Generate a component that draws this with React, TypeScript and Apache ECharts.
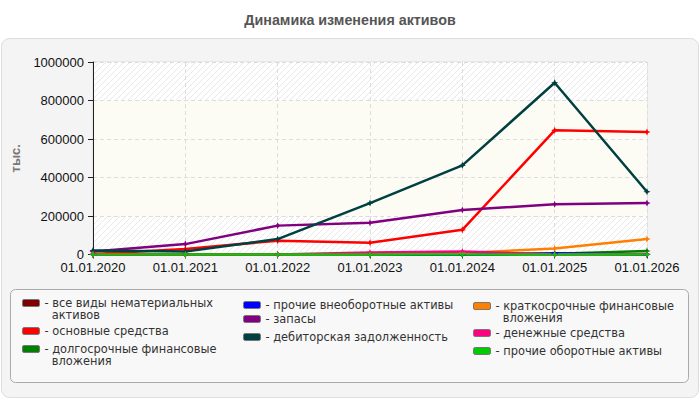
import React, { useEffect, useRef } from "react";
import * as echarts from "echarts";

const categories = ["01.01.2020", "01.01.2021", "01.01.2022", "01.01.2023", "01.01.2024", "01.01.2025", "01.01.2026"];
const yTicks = { min: 0, max: 1000000, interval: 200000 };

const intangible = [0, 0, 0, 0, 0, 0, 0];
const fixedAssets = [3000, 28000, 72000, 61000, 128000, 645000, 636000];
const longTermInvest = [0, 0, 0, 0, 0, 4000, 18000];
const otherNonCurrent = [0, 0, 0, 0, 0, 6000, 0];
const inventories = [15000, 54000, 150000, 165000, 231000, 261000, 267000];
const receivables = [21000, 15000, 80000, 267000, 463000, 892000, 326000];
const shortTermInvest = [0, 0, 0, 0, 8000, 31000, 80000];
const cash = [0, 0, 0, 10000, 15000, 1000, 2000];
const otherCurrent = [0, 0, 0, 0, 0, 0, 0];

const seriesNames = [
  "все виды нематериальных активов",
  "основные средства",
  "долгосрочные финансовые вложения",
  "прочие внеоборотные активы",
  "запасы",
  "дебиторская задолженность",
  "краткосрочные финансовые вложения",
  "денежные средства",
  "прочие оборотные активы",
];
const seriesData = [intangible, fixedAssets, longTermInvest, otherNonCurrent, inventories, receivables, shortTermInvest, cash, otherCurrent];
const seriesColors = ["#800000", "#ff0000", "#008000", "#0000ff", "#800080", "#004040", "#ff8000", "#ff0080", "#00cc00"];
const legendLabels: Record<string, string> = {
  "все виды нематериальных активов": "- все виды нематериальных\n  активов",
  "долгосрочные финансовые вложения": "- долгосрочные финансовые\n  вложения",
  "краткосрочные финансовые вложения": "- краткосрочные финансовые\n  вложения",
};

function makeHatch() {
  const c = document.createElement("canvas");
  c.width = 6;
  c.height = 6;
  const ctx = c.getContext("2d");
  if (ctx) {
    ctx.fillStyle = "#ffffff";
    ctx.fillRect(0, 0, 6, 6);
    ctx.strokeStyle = "#e8e8e8";
    ctx.lineWidth = 1;
    ctx.beginPath();
    ctx.moveTo(0, 6);
    ctx.lineTo(6, 0);
    ctx.moveTo(-1, 1);
    ctx.lineTo(1, -1);
    ctx.moveTo(5, 7);
    ctx.lineTo(7, 5);
    ctx.stroke();
  }
  return c.toDataURL();
}

// rounded-rect icon occupying the top 7px of a 17x19 box (so it sits beside the first text line)
const topIcon = "path://M1.5,0 L15.5,0 Q17,0 17,1.5 L17,5.5 Q17,7 15.5,7 L1.5,7 Q0,7 0,5.5 L0,1.5 Q0,0 1.5,0 Z M0,19 L0,19";

export default function App() {
  const ref = useRef<HTMLDivElement>(null);
  useEffect(() => {
    if (!ref.current) return;
    const chart = echarts.init(ref.current, null, { renderer: "svg" });
    const hatch = { image: makeHatch(), repeat: "repeat", imageWidth: 6, imageHeight: 6 };
    const cream = "#fcfcf4";

    const legendPos: Array<[number, number, number]> = [
      // [seriesIndex, left, top]
      [0, 22, 297],
      [1, 22, 325],
      [2, 22, 343],
      [3, 243, 299],
      [4, 243, 313],
      [5, 243, 331],
      [6, 473, 300],
      [7, 473, 327],
      [8, 473, 345],
    ];

    const legends = legendPos.map(([i, left, top]) => {
      const name = seriesNames[i];
      const two = !!legendLabels[name];
      return {
        data: [name],
        left,
        top,
        padding: 0,
        orient: "vertical",
        icon: two ? topIcon : "roundRect",
        itemWidth: 17,
        itemHeight: two ? 19 : 7,
        itemStyle: { borderColor: "#777", borderWidth: 1 },
        selectedMode: false,
        formatter: (n: string) => legendLabels[n] || "- " + n,
        textStyle: {
          fontFamily: "DejaVu Sans",
          fontSize: 11.4,
          color: "#333",
          lineHeight: 12,
        },
      };
    });

    const marker = "path://M0,-1 L0.3,-0.3 L1,0 L0.3,0.3 L0,1 L-0.3,0.3 L-1,0 L-0.3,-0.3 Z";

    chart.setOption({
      animation: false,
      backgroundColor: "#ffffff",
      title: {
        text: "Динамика изменения активов",
        left: "center",
        top: 8,
        textStyle: { fontFamily: "Liberation Sans", fontSize: 14.3, fontWeight: "bold", color: "#555" },
      },
      graphic: [
        {
          type: "rect",
          z: -100,
          shape: { x: 1.5, y: 38.5, width: 697, height: 359, r: 8 },
          style: { fill: "#f4f4f4", stroke: "#dddddd", lineWidth: 1 },
        },
        {
          type: "rect",
          z: -90,
          shape: { x: 10.5, y: 289.5, width: 678, height: 93, r: 5 },
          style: { fill: "#f8f8f8", stroke: "#aaaaaa", lineWidth: 1 },
        },
      ],
      legend: legends,
      grid: {
        left: 93,
        right: 53,
        top: 62,
        bottom: 145.5,
        show: true,
        borderColor: "#dddddd",
        borderWidth: 1,
        backgroundColor: "transparent",
      },
      xAxis: {
        type: "category",
        data: categories,
        boundaryGap: false,
        axisLine: { lineStyle: { color: "#222", width: 1 } },
        axisTick: { show: true, length: 4, lineStyle: { color: "#222" } },
        axisLabel: { fontFamily: "Liberation Sans", fontSize: 13, color: "#111", margin: 6, interval: 0 },
        splitLine: { show: true, lineStyle: { color: "#dddddd", type: [4, 3] } },
      },
      yAxis: {
        type: "value",
        min: yTicks.min,
        max: yTicks.max,
        interval: yTicks.interval,
        name: "тыс.",
        nameLocation: "middle",
        nameGap: 65,
        nameTextStyle: { fontFamily: "Liberation Sans", fontSize: 13, fontWeight: "bold", color: "#777" },
        axisLine: { show: true, lineStyle: { color: "#222", width: 1 } },
        axisTick: { show: true, length: 5, lineStyle: { color: "#222" } },
        axisLabel: {
          fontFamily: "Liberation Sans",
          fontSize: 13,
          color: "#111",
          margin: 9,
          formatter: (v: number) => String(v),
        },
        splitLine: { show: true, lineStyle: { color: "#dddddd", type: [4, 3] } },
        splitArea: { show: true, areaStyle: { color: [hatch, cream, cream, cream, hatch] } },
      },
      series: seriesNames.map((name, i) => ({
        name,
        type: "line",
        data: seriesData[i],
        color: seriesColors[i],
        lineStyle: { width: 2.5, color: seriesColors[i] },
        itemStyle: { color: seriesColors[i] },
        symbol: marker,
        symbolSize: 7,
        showSymbol: true,
      })),
    });
    return () => chart.dispose();
  }, []);
  return <div ref={ref} style={{ position: "fixed", left: 0, top: 0, width: 700, height: 400 }} />;
}
